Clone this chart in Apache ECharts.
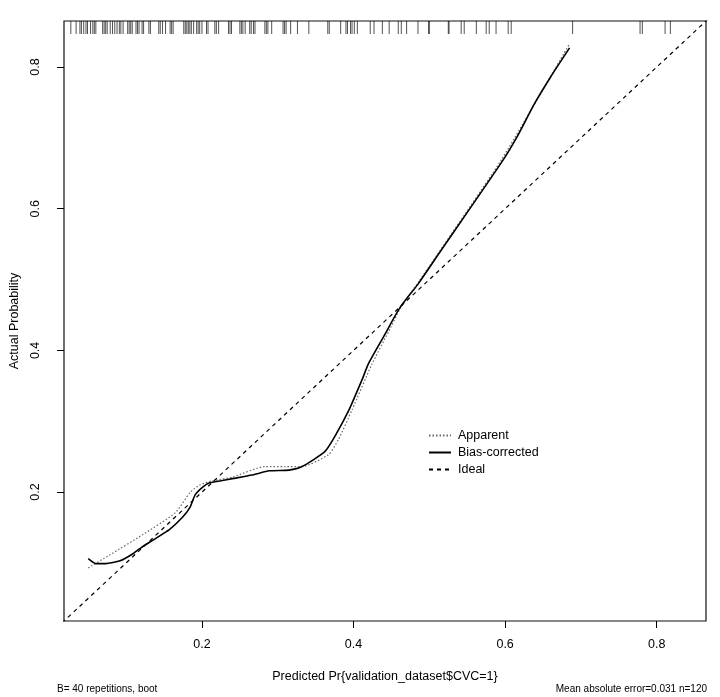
<!DOCTYPE html>
<html>
<head>
<meta charset="utf-8">
<title>Calibration curve</title>
<script src="https://cdn.jsdelivr.net/npm/echarts@6.0.0/dist/echarts.min.js"></script>
<style>
  html, body { margin: 0; padding: 0; background: #fff; }
  #main { width: 720px; height: 697px; }
</style>
</head>
<body>
<div id="main"></div>
<script>
// axis range (R pads the data range by 4%)
var axisMin = 0.018, axisMax = 0.865;
var tickValues = [0.2, 0.4, 0.6, 0.8];

// bias-corrected curve
var biasX = [0.050,0.060,0.073,0.092,0.109,0.119,0.135,0.157,0.174,0.184,0.191,0.201,0.210,0.225,0.240,0.266,0.289,0.315,0.332,0.362,0.375,0.394,0.411,0.420,0.441,0.461,0.486,0.516,0.595,0.617,0.638,0.660,0.685];
var biasY = [0.106,0.099,0.099,0.103,0.113,0.121,0.132,0.147,0.164,0.178,0.196,0.207,0.213,0.216,0.219,0.224,0.230,0.231,0.236,0.257,0.278,0.316,0.358,0.382,0.422,0.460,0.495,0.542,0.665,0.704,0.747,0.786,0.827];

// apparent curve
var apparentX = [0.050,0.078,0.122,0.165,0.184,0.197,0.214,0.240,0.283,0.310,0.332,0.367,0.380,0.398,0.424,0.446,0.463,0.486,0.595,0.685];
var apparentY = [0.093,0.111,0.140,0.171,0.199,0.210,0.216,0.221,0.236,0.236,0.236,0.253,0.274,0.316,0.380,0.426,0.462,0.497,0.669,0.833];

// ideal line
var idealX = [0, 1];
var idealY = [0, 1];

// rug of predicted probabilities (top of plot)
var rugX = [0.027,0.034,0.039,0.041,0.044,0.047,0.049,0.053,0.056,0.058,0.060,0.069,0.071,0.073,0.075,0.079,0.082,0.085,0.088,0.091,0.093,0.096,
  0.102,0.104,0.106,0.108,0.113,0.115,0.117,0.121,0.123,0.130,0.132,0.143,0.145,0.148,0.152,0.158,0.160,0.162,0.176,0.178,0.180,0.182,0.184,0.186,0.189,
  0.193,0.195,0.197,0.200,0.206,0.208,0.217,0.219,0.222,0.235,0.237,0.239,0.250,0.252,0.254,0.257,0.263,0.265,0.268,0.270,0.283,0.285,0.287,0.292,
  0.307,0.309,0.311,0.317,0.326,0.341,0.366,0.368,0.383,0.390,0.392,0.396,0.398,0.401,0.405,0.422,0.427,0.438,0.447,0.459,0.463,0.470,0.485,0.499,0.500,
  0.525,0.526,0.542,0.546,0.562,0.575,0.579,0.588,0.604,0.608,0.689,0.778,0.781,0.811,0.818];

function pairs(xs, ys) {
  var out = [];
  for (var i = 0; i < xs.length; i++) out.push([xs[i], ys[i]]);
  return out;
}
var rugData = [];
for (var i = 0; i < rugX.length; i++) rugData.push([rugX[i], axisMax]);

var font = "'Liberation Sans', Arial, sans-serif";

var option = {
  animation: false,
  backgroundColor: '#fff',
  textStyle: { fontFamily: font, color: '#000' },
  grid: {
    left: 61, right: 14, top: 21, bottom: 76,
    show: true, borderColor: '#111', borderWidth: 1.2, backgroundColor: 'transparent'
  },
  title: [
    { text: 'B= 40 repetitions, boot', left: 57, top: 684, padding: 0,
      textStyle: { fontSize: 10, fontWeight: 'normal', color: '#000', fontFamily: font } },
    { text: 'Mean absolute error=0.031 n=120', right: 13, top: 684, padding: 0,
      textStyle: { fontSize: 10, fontWeight: 'normal', color: '#000', fontFamily: font } }
  ],
  legend: {
    orient: 'vertical',
    left: 423, top: 424,
    itemWidth: 22, itemHeight: 12, itemGap: 4,
    itemStyle: { color: 'rgba(0,0,0,0)', borderColor: 'rgba(0,0,0,0)', borderWidth: 0 },
    textStyle: { fontSize: 12.5, color: '#000', fontFamily: font, padding: [0, 0, 0, 2] },
    data: ['Apparent', 'Bias-corrected', 'Ideal']
  },
  xAxis: {
    type: 'value', min: axisMin, max: axisMax,
    name: 'Predicted Pr{validation_dataset$CVC=1}',
    nameLocation: 'middle', nameGap: 49,
    nameTextStyle: { fontSize: 12.5, color: '#000', fontFamily: font },
    axisLine: { show: false },
    splitLine: { show: false },
    axisTick: { show: true, length: 7, customValues: tickValues, lineStyle: { color: '#000' } },
    axisLabel: { customValues: tickValues, margin: 17, fontSize: 12.5, color: '#000', fontFamily: font,
      formatter: function (v) { return v.toFixed(1); } }
  },
  yAxis: {
    type: 'value', min: axisMin, max: axisMax,
    name: 'Actual Probability',
    nameLocation: 'middle', nameGap: 43,
    nameTextStyle: { fontSize: 12.5, color: '#000', fontFamily: font },
    axisLine: { show: false },
    splitLine: { show: false },
    axisTick: { show: true, length: 7, customValues: tickValues, lineStyle: { color: '#000' } },
    axisLabel: { customValues: tickValues, rotate: 90, margin: 22, fontSize: 12.5, color: '#000', fontFamily: font,
      formatter: function (v) { return v.toFixed(1); } }
  },
  series: [
    {
      name: 'Rug', type: 'scatter', silent: true,
      symbol: 'rect', symbolSize: [1, 13], symbolOffset: [0, 6.5],
      itemStyle: { color: 'rgba(0,0,0,0.85)' },
      data: rugData
    },
    {
      name: 'Apparent', type: 'line', symbol: 'none', smooth: 0.2,
      lineStyle: { color: '#666', width: 1.2, type: [1.5, 2] },
      itemStyle: { color: '#666' },
      data: pairs(apparentX, apparentY)
    },
    {
      name: 'Bias-corrected', type: 'line', symbol: 'none', smooth: 0.2,
      lineStyle: { color: '#000', width: 1.6, type: 'solid' },
      itemStyle: { color: '#000' },
      data: pairs(biasX, biasY)
    },
    {
      name: 'Ideal', type: 'line', symbol: 'none',
      lineStyle: { color: '#000', width: 1.2, type: [4, 4] },
      itemStyle: { color: '#000' },
      data: pairs(idealX, idealY)
    }
  ]
};

var chart = echarts.init(document.getElementById('main'));
chart.setOption(option);
</script>
</body>
</html>
